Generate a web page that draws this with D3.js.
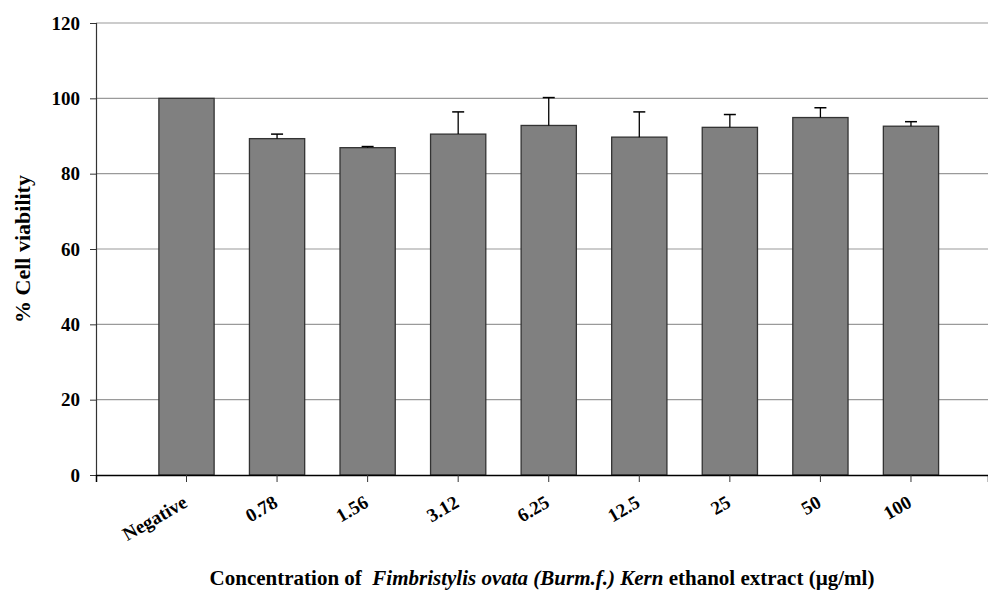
<!DOCTYPE html>
<html>
<head>
<meta charset="utf-8">
<script src="https://cdn.jsdelivr.net/npm/d3@7"></script>
<style>
  body { margin: 0; background: #fff; }
  text { font-family: "Liberation Serif", "Times New Roman", serif; font-weight: bold; fill: #000; }
</style>
</head>
<body>
<div class="chart"></div>
<script>
// data
const categories = ["Negative", "0.78", "1.56", "3.12", "6.25", "12.5", "25", "50", "100"]
const viability = [100, 89.3, 86.9, 90.5, 92.8, 89.7, 92.3, 94.9, 92.6]
const errUpper = [0, 1.2, 0.3, 5.9, 7.4, 6.7, 3.4, 2.6, 1.2]
const yTicks = [0, 20, 40, 60, 80, 100, 120]

let svgWidth = 988
let svgHeight = 591

let margin = { left: 96, right: 0, top: 23, bottom: 116 }
let width = svgWidth - margin.left - margin.right
let height = svgHeight - margin.top - margin.bottom

let svg = d3.select('.chart')
    .append('svg')
    .attr('width', svgWidth)
    .attr('height', svgHeight)
    .append('g')
    .attr('transform', `translate(${margin.left},${margin.top})`)

let data = categories.map((c, i) => ({ cat: c, v: viability[i], e: errUpper[i] }))

let xScale = d3.scaleBand()
    .domain(categories)
    .range([0, width])
    .paddingInner(0.39)
    .paddingOuter(0.62)
    .align(0.56)

let yScale = d3.scaleLinear()
    .domain([0, 120])
    .range([height, 0])

// grid lines
svg.append('g')
    .selectAll('line')
    .data(yTicks.filter(d => d > 0))
    .join('line')
    .attr('x1', 0)
    .attr('x2', width)
    .attr('y1', d => yScale(d))
    .attr('y2', d => yScale(d))
    .attr('stroke', '#9a9a9a')
    .attr('stroke-width', 1.2)

// bars
svg.append('g')
    .selectAll('rect')
    .data(data)
    .join('rect')
    .attr('x', d => xScale(d.cat))
    .attr('y', d => yScale(d.v))
    .attr('width', xScale.bandwidth())
    .attr('height', d => height - yScale(d.v))
    .attr('fill', '#808080')
    .attr('stroke', '#333')
    .attr('stroke-width', 1.3)

// error bars (upper only)
let errs = svg.append('g').selectAll('g')
    .data(data.filter(d => d.e > 0))
    .join('g')
    .attr('transform', d => `translate(${xScale(d.cat) + xScale.bandwidth() / 2},0)`)

errs.append('line')
    .attr('x1', 0).attr('x2', 0)
    .attr('y1', d => yScale(d.v))
    .attr('y2', d => yScale(d.v + d.e))
    .attr('stroke', '#000')
    .attr('stroke-width', 1.3)

errs.append('line')
    .attr('x1', -6).attr('x2', 6)
    .attr('y1', d => yScale(d.v + d.e))
    .attr('y2', d => yScale(d.v + d.e))
    .attr('stroke', '#000')
    .attr('stroke-width', 1.5)

// axes
let yAxis = d3.axisLeft(yScale)
    .tickValues(yTicks)
    .tickSizeOuter(0)
    .tickSize(6)
    .tickPadding(10)

let xAxis = d3.axisBottom(xScale)
    .tickSizeOuter(0)
    .tickSize(7)

let gy = svg.append('g').attr('id', 'y-axis').call(yAxis)
gy.selectAll('text').style('font-size', '19px')
gy.select('.domain').attr('stroke', '#333').attr('stroke-width', 1.2)
gy.selectAll('.tick line').attr('stroke', '#333')

let gx = svg.append('g')
    .attr('id', 'x-axis')
    .attr('transform', `translate(0,${height})`)
    .call(xAxis)
gx.select('.domain').attr('stroke', '#000').attr('stroke-width', 1.5)
gx.selectAll('.tick line').attr('stroke', '#333')
gx.selectAll('text')
    .attr('x', 0)
    .attr('y', 0)
    .attr('dy', 0)
    .attr('transform', 'translate(2,31) rotate(-30)')
    .style('text-anchor', 'end')
    .style('font-size', '19px')

// axis titles
svg.append('text')
    .attr('transform', `translate(${-margin.left + 30},${height / 2}) rotate(-90)`)
    .attr('text-anchor', 'middle')
    .style('font-size', '22px')
    .text('% Cell viability')

let title = svg.append('text')
    .attr('x', width / 2)
    .attr('y', height + 110)
    .attr('text-anchor', 'middle')
    .style('font-size', '21px')
title.append('tspan').text('Concentration of\u00a0 ')
title.append('tspan').style('font-style', 'italic').text('Fimbristylis ovata (Burm.f.) Kern')
title.append('tspan').text(' ethanol extract (\u00b5g/ml)')
</script>
</body>
</html>
